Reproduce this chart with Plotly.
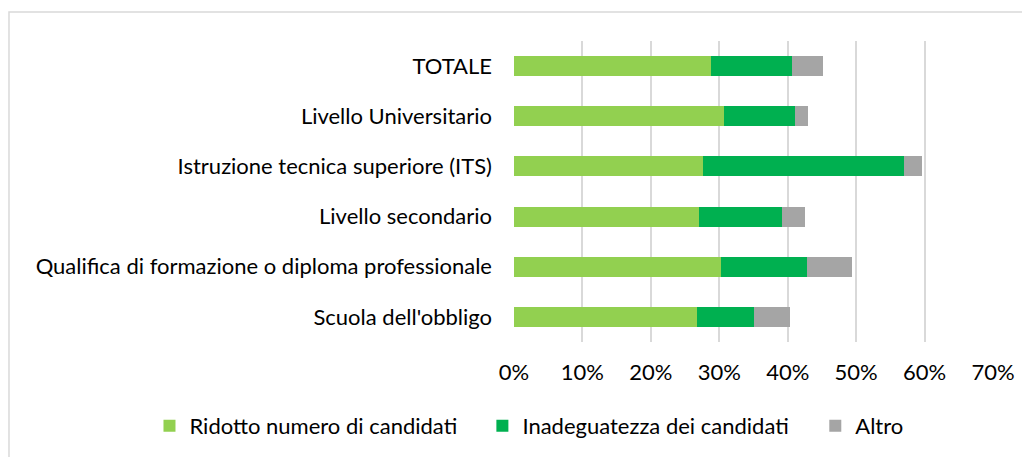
import plotly.graph_objects as go

categories = [
    "TOTALE",
    "Livello Universitario",
    "Istruzione tecnica superiore (ITS)",
    "Livello secondario",
    "Qualifica di formazione o diploma professionale",
    "Scuola dell'obbligo",
]
ridotto = [0.288, 0.307, 0.276, 0.271, 0.302, 0.267]
inadeguatezza = [0.118, 0.103, 0.294, 0.120, 0.126, 0.083]
altro = [0.045, 0.020, 0.026, 0.034, 0.066, 0.054]
x_ticks = [0, 0.1, 0.2, 0.3, 0.4, 0.5, 0.6, 0.7]
x_tick_labels = ["0%", "10%", "20%", "30%", "40%", "50%", "60%", "70%"]

series = [
    ("Ridotto numero di candidati", ridotto, "#92d050", "legend"),
    ("Inadeguatezza dei candidati", inadeguatezza, "#00b050", "legend2"),
    ("Altro", altro, "#a5a5a5", "legend3"),
]

fig = go.Figure()
for name, vals, col, lg in series:
    fig.add_trace(go.Bar(
        y=categories, x=vals, name=name, orientation="h",
        marker=dict(color=col, line=dict(width=0)),
        width=0.4, legend=lg,
    ))

font_family = "Lato, Open Sans, sans-serif"
fs = 22
# page is shown with an 8px body margin, so the figure is offset by 8px
W, H = 1022, 449
L, R, T, B = 506, 37, 33, 115

def legend_cfg(x):
    return dict(
        orientation="h", xref="paper", yref="paper",
        x=x, xanchor="left", y=-0.279, yanchor="middle",
        font=dict(size=fs, color="#000000"), itemwidth=30,
        bgcolor="rgba(0,0,0,0)",
    )

fig.update_layout(
    barmode="stack",
    width=W, height=H,
    margin=dict(l=L, r=R, t=T, b=B, autoexpand=False),
    paper_bgcolor="white", plot_bgcolor="white",
    font=dict(family=font_family, size=fs, color="#000000"),
    xaxis=dict(
        range=[0, 0.7], tickvals=x_ticks, ticktext=x_tick_labels,
        showgrid=True, gridcolor="#d9d9d9", gridwidth=1.5,
        zeroline=False, showline=False, ticks="",
        tickfont=dict(size=fs), ticklabelstandoff=15,
    ),
    yaxis=dict(
        categoryorder="array", categoryarray=categories[::-1],
        showgrid=False, zeroline=False, showline=False, ticks="",
        tickfont=dict(size=fs), ticklabelstandoff=21,
    ),
    legend=legend_cfg(-0.761),
    legend2=legend_cfg(-0.066),
    legend3=legend_cfg(0.629),
    showlegend=True,
)
fig.add_shape(type="rect", xref="paper", yref="paper",
              x0=-1.0543, x1=1.2, y0=-0.6, y1=1.0963,
              line=dict(color="#d9d9d9", width=1.5), layer="below")

fig.write_html("out.html")
